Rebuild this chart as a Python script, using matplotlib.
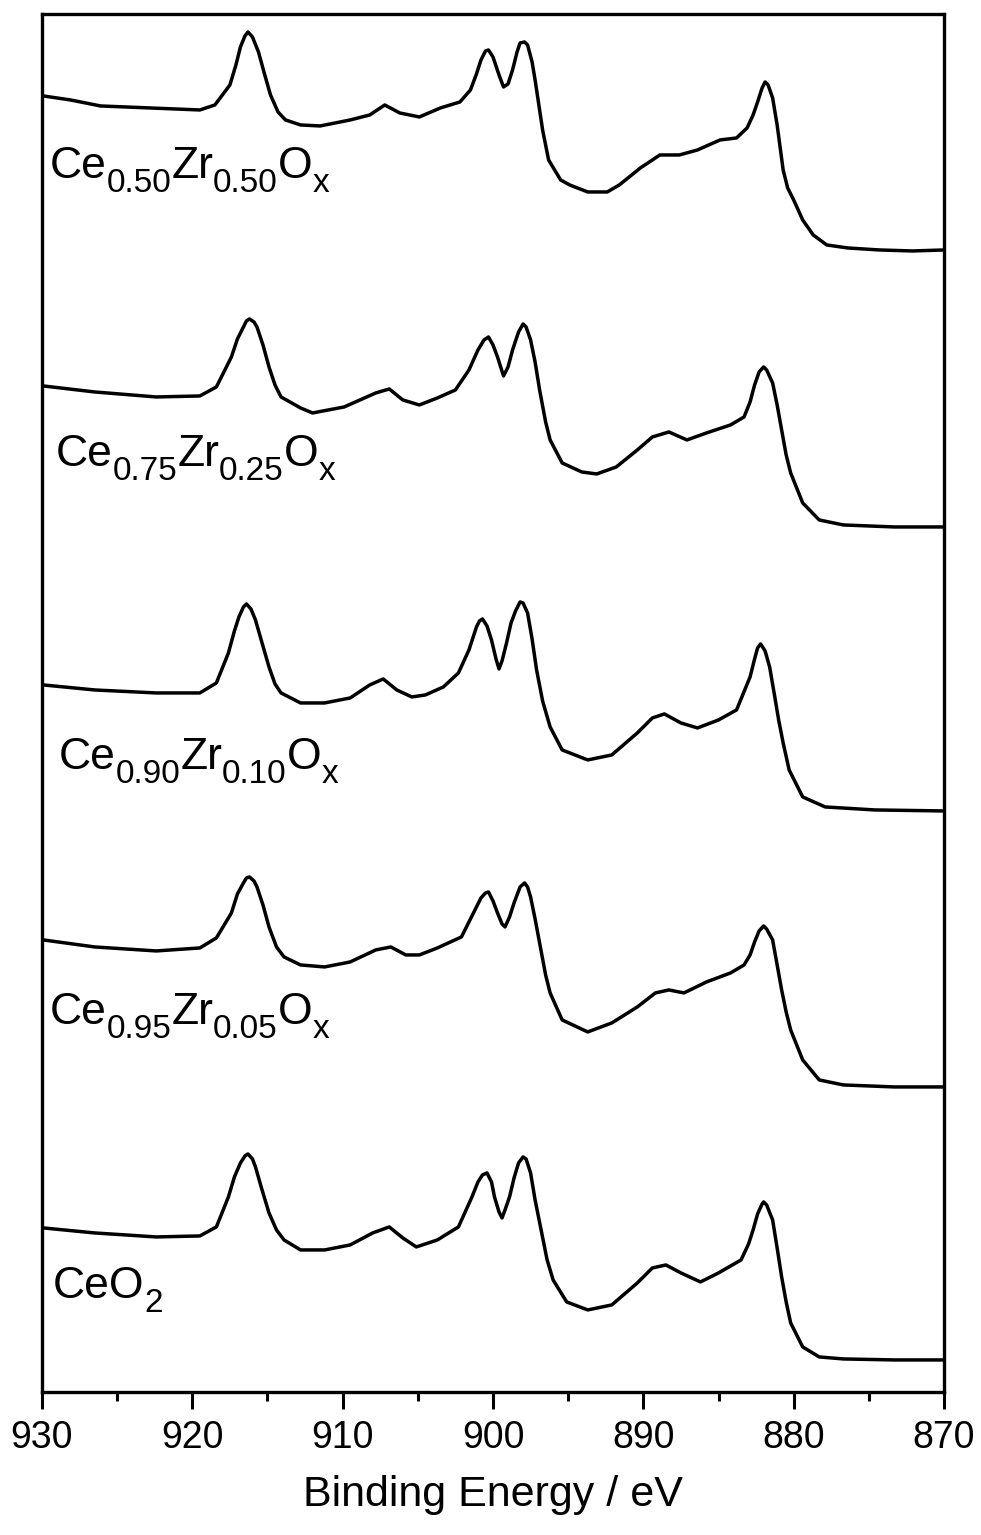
import numpy as np
import matplotlib
matplotlib.use("Agg")
import matplotlib.pyplot as plt
from matplotlib.ticker import MultipleLocator

plt.rcParams["font.family"] = ["Liberation Sans", "DejaVu Sans"]

# Ce 3d spectra, intensity (a.u.) above the flat tail at 870 eV
e_050 = [929.9, 928.1, 926.1, 922.8, 919.5, 918.5, 917.5, 917.1, 916.8, 916.5, 916.3, 916.0,
         915.6, 915.2, 914.8, 914.3, 913.8, 912.8, 911.5, 909.5, 908.2, 907.2, 906.2, 904.9,
         903.5, 902.2, 901.5, 901.1, 900.8, 900.5, 900.3, 900.0, 899.6, 899.3, 899.0, 898.7,
         898.4, 898.2, 897.9, 897.7, 897.4, 897.2, 896.9, 896.7, 896.3, 895.5, 894.9, 893.7,
         892.4, 891.6, 890.2, 888.9, 887.6, 886.4, 884.9, 883.8, 883.1, 882.7, 882.4, 882.1,
         881.9, 881.7, 881.4, 881.1, 880.7, 880.4, 880.0, 879.4, 878.7, 877.8, 876.4, 874.3,
         872.1, 870.0]
i_050 = [154, 150, 144, 142, 140, 145, 165, 185, 203, 214, 218, 213,
         198, 176, 155, 138, 130, 125, 124, 130, 135, 145, 137, 133,
         142, 148, 160, 176, 190, 199, 200, 193, 175, 163, 166, 180,
         198, 207, 208, 205, 188, 170, 140, 120, 90, 70, 65, 58,
         58, 65, 82, 95, 95, 100, 110, 112, 122, 135, 148, 162,
         168, 165, 152, 125, 80, 62, 50, 30, 15, 5, 2, 0,
         -1, 0]

e_075 = [929.9, 926.5, 922.4, 919.5, 918.4, 917.4, 917.0, 916.6, 916.4, 916.2, 915.9, 915.7,
         915.3, 914.9, 914.5, 914.1, 912.8, 912.0, 909.9, 907.8, 906.9, 906.0, 904.9, 903.7,
         902.5, 901.6, 901.0, 900.6, 900.3, 900.0, 899.7, 899.3, 899.0, 898.7, 898.3, 898.0,
         897.8, 897.5, 897.2, 896.9, 896.5, 896.2, 895.4, 894.1, 893.1, 891.8, 890.4, 889.4,
         888.3, 887.1, 885.8, 884.2, 883.3, 882.9, 882.6, 882.3, 882.0, 881.8, 881.4, 881.1,
         880.8, 880.5, 880.2, 879.4, 878.3, 876.7, 873.3, 870.0]
i_075 = [141, 135, 130, 131, 140, 170, 188, 200, 206, 208, 205, 200,
         182, 160, 142, 130, 119, 114, 120, 134, 138, 127, 122, 129,
         137, 157, 177, 187, 190, 182, 170, 151, 160, 177, 195, 203,
         200, 187, 165, 137, 105, 87, 64, 55, 53, 60, 77, 90,
         95, 87, 94, 102, 110, 125, 142, 155, 160, 157, 144, 122,
         97, 72, 54, 24, 7, 2, 0, 0]

e_090 = [929.9, 926.5, 922.4, 919.5, 918.4, 917.6, 917.2, 916.9, 916.6, 916.4, 916.1, 915.8,
         915.4, 914.9, 914.5, 914.1, 912.8, 911.2, 909.5, 908.2, 907.3, 906.4, 905.4, 904.5,
         903.3, 902.3, 901.6, 901.1, 900.9, 900.7, 900.4, 900.1, 899.8, 899.6, 899.4, 899.1,
         898.8, 898.5, 898.2, 898.0, 897.7, 897.4, 897.1, 896.7, 896.2, 895.4, 893.7, 892.1,
         890.4, 889.4, 888.6, 887.5, 886.4, 885.0, 883.8, 882.9, 882.6, 882.4, 882.2, 881.9,
         881.6, 881.3, 881.0, 880.7, 880.3, 879.4, 877.9, 874.6, 870.0]
i_090 = [126, 121, 118, 118, 128, 158, 180, 194, 204, 207, 202, 191,
         170, 144, 127, 118, 108, 108, 113, 126, 132, 121, 114, 116,
         124, 138, 161, 184, 190, 192, 185, 171, 152, 142, 150, 168,
         188, 200, 209, 208, 198, 172, 141, 110, 84, 61, 51, 56,
         78, 93, 97, 88, 83, 91, 101, 134, 152, 163, 167, 160,
         144, 118, 91, 68, 41, 14, 4, 1, 0]

e_095 = [929.9, 926.5, 922.4, 919.5, 918.4, 917.4, 917.0, 916.6, 916.4, 916.2, 915.9, 915.7,
         915.3, 914.9, 914.4, 913.9, 912.8, 911.2, 909.5, 907.8, 906.8, 905.8, 904.9, 903.7,
         902.1, 901.2, 900.8, 900.5, 900.3, 900.0, 899.7, 899.4, 899.2, 898.9, 898.6, 898.2,
         897.9, 897.7, 897.5, 897.2, 896.9, 896.5, 896.2, 895.4, 893.7, 892.1, 890.4, 889.2,
         888.3, 887.3, 885.8, 884.2, 883.3, 882.9, 882.6, 882.3, 882.0, 881.8, 881.4, 881.1,
         880.8, 880.5, 880.2, 879.4, 878.3, 876.7, 873.3, 870.0]
i_095 = [147, 140, 136, 139, 149, 174, 193, 204, 209, 210, 206, 200,
         182, 160, 140, 130, 122, 120, 125, 137, 140, 132, 132, 139,
         150, 177, 189, 194, 195, 186, 174, 163, 160, 170, 184, 200,
         204, 200, 190, 168, 144, 112, 94, 67, 55, 64, 80, 94,
         97, 94, 105, 114, 122, 132, 145, 156, 161, 158, 147, 122,
         97, 75, 57, 27, 7, 2, 0, 0]

e_ceo2 = [929.9, 926.5, 922.4, 919.5, 918.4, 917.6, 917.2, 916.8, 916.5, 916.3, 916.0, 915.8,
          915.4, 914.9, 914.4, 913.9, 912.8, 911.2, 909.5, 908.0, 906.9, 906.0, 905.1, 903.7,
          902.3, 901.4, 901.0, 900.7, 900.4, 900.1, 899.9, 899.6, 899.4, 899.2, 898.9, 898.6,
          898.3, 898.0, 897.8, 897.5, 897.2, 896.8, 896.4, 896.0, 895.1, 893.7, 892.1, 890.4,
          889.4, 888.5, 887.5, 886.2, 885.0, 883.5, 883.0, 882.7, 882.4, 882.1, 882.0, 881.8,
          881.4, 881.1, 880.8, 880.5, 880.2, 879.4, 878.3, 876.7, 873.3, 870.0]
i_ceo2 = [132, 127, 123, 124, 133, 163, 183, 197, 204, 206, 201, 193,
          172, 147, 130, 120, 110, 110, 115, 127, 133, 122, 113, 120,
          133, 163, 178, 185, 187, 178, 163, 148, 142, 150, 163, 182,
          197, 203, 201, 187, 160, 130, 100, 80, 58, 50, 55, 77,
          92, 95, 87, 78, 87, 100, 116, 130, 146, 156, 158, 155,
          140, 112, 83, 58, 37, 13, 3, 1, 0, 0]

energies = [e_050, e_075, e_090, e_095, e_ceo2]
intensities = [i_050, i_075, i_090, i_095, i_ceo2]
offsets = [1142, 865, 581, 305, 32]

# sample names as (text, subscript?) pieces
labels = [[("Ce", False), ("0.50", True), ("Zr", False), ("0.50", True), ("O", False), ("x", True)],
          [("Ce", False), ("0.75", True), ("Zr", False), ("0.25", True), ("O", False), ("x", True)],
          [("Ce", False), ("0.90", True), ("Zr", False), ("0.10", True), ("O", False), ("x", True)],
          [("Ce", False), ("0.95", True), ("Zr", False), ("0.05", True), ("O", False), ("x", True)],
          [("CeO", False), ("2", True)]]
label_x = [929.5, 929.1, 928.9, 929.5, 929.3]
label_y = [1214, 926, 623, 368, 94]

fig = plt.figure(figsize=(9.81, 15.35), dpi=100)
ax = fig.add_axes([0.0428, 0.0932, 0.9195, 0.8977])

for e, inten, off in zip(energies, intensities, offsets):
    ax.plot(e, np.array(inten) + off, color="black", lw=2.5)

ax.set_xlim(930, 870)
ax.set_ylim(0, 1378)


def formula(x, y, parts, size=32, sub_size=24, drop=14):
    renderer = fig.canvas.get_renderer()
    x_disp = ax.transData.transform((x, y))[0]
    cur = x_disp
    for s, sub in parts:
        t = ax.annotate(s, xy=(x, y), xycoords="data",
                        xytext=(cur - x_disp, -drop if sub else 0),
                        textcoords="offset pixels",
                        fontsize=sub_size if sub else size, va="baseline", ha="left")
        cur = t.get_window_extent(renderer).x1


for parts, lx, ly in zip(labels, label_x, label_y):
    formula(lx, ly, parts)

ax.set_yticks([])
ax.xaxis.set_major_locator(MultipleLocator(10))
ax.xaxis.set_minor_locator(MultipleLocator(5))
ax.tick_params(axis="x", which="major", direction="out", length=12, width=2.2,
               labelsize=27, pad=8)
ax.tick_params(axis="x", which="minor", direction="out", length=6.5, width=2.2)
for sp in ax.spines.values():
    sp.set_linewidth(2.4)

ax.set_xlabel("Binding Energy / eV", fontsize=31, labelpad=14)

fig.savefig("out.png", dpi=100)
